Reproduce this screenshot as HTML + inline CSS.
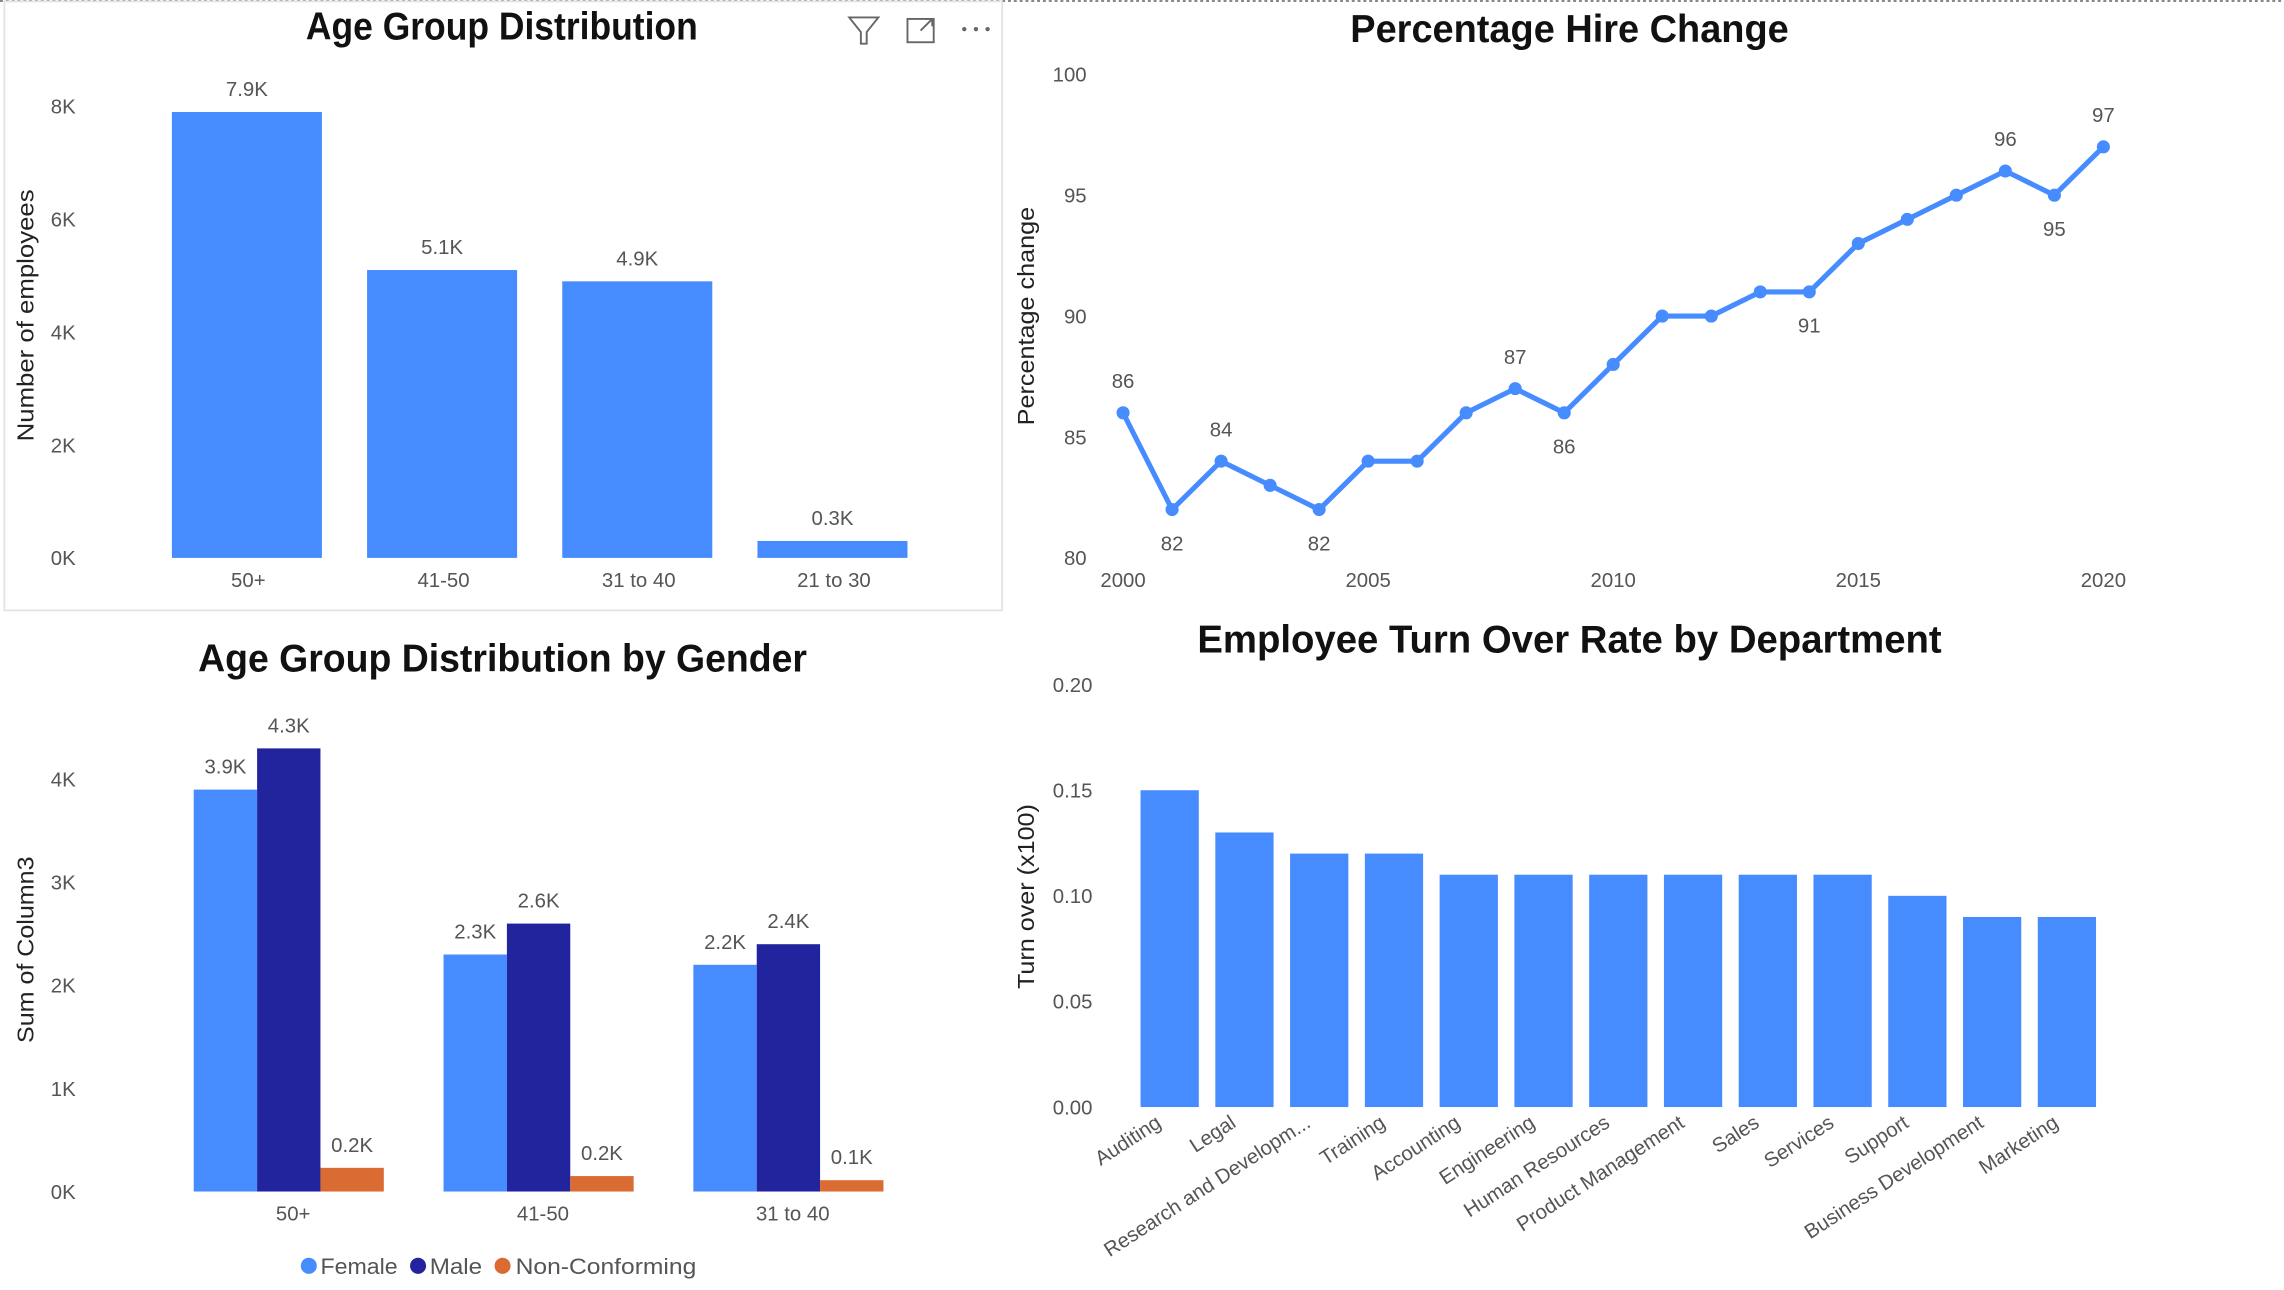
<!DOCTYPE html>
<html><head><meta charset="utf-8"><style>
html,body{margin:0;padding:0;background:#fff;width:2284px;height:1290px;overflow:hidden}
svg{display:block;font-family:"Liberation Sans",sans-serif}
.t{font-weight:bold;font-size:27px;fill:#111}
.tk{font-size:14px;fill:#555}
.lb{font-size:14px;fill:#555}
.at{font-size:16px;fill:#222}
</style></head><body>
<svg id="s" width="2284" height="1290" viewBox="0 0 1568 885.6" preserveAspectRatio="none" xmlns="http://www.w3.org/2000/svg">
<line x1="0" y1="0.7" x2="1568" y2="0.7" stroke="#777" stroke-dasharray="2,2" stroke-width="1.2"/>
<rect x="3" y="1" width="685" height="418" fill="none" stroke="#e3e3e3" stroke-width="1.2"/>
<text class="t" x="210" y="27" textLength="269" lengthAdjust="spacingAndGlyphs">Age Group Distribution</text>
<g fill="none" stroke="#666" stroke-width="1.3"><path d="M583 12 L603 12 L595 22 L595 30 L591 30 L591 22 Z"/></g>
<g fill="none" stroke="#666" stroke-width="1.3"><rect x="623" y="13" width="18" height="16"/><path d="M632 21 L640 13 M635 13 L640 13 L640 18"/></g>
<g fill="#666"><circle cx="662" cy="20" r="1.5"/><circle cx="670" cy="20" r="1.5"/><circle cx="678" cy="20" r="1.5"/></g>
<text class="at" transform="translate(23,303) rotate(-90)" textLength="173" lengthAdjust="spacingAndGlyphs">Number of employees</text>
<g id="g1"></g>
<text class="t" x="927" y="29" textLength="301" lengthAdjust="spacingAndGlyphs">Percentage Hire Change</text>
<text class="at" transform="translate(710,292) rotate(-90)" textLength="150" lengthAdjust="spacingAndGlyphs">Percentage change</text>
<g id="g2"></g>
<text class="t" x="136" y="461" textLength="418" lengthAdjust="spacingAndGlyphs">Age Group Distribution by Gender</text>
<text class="at" transform="translate(23,716) rotate(-90)" textLength="128" lengthAdjust="spacingAndGlyphs">Sum of Column3</text>
<g id="g3"></g>
<g>
<circle cx="212" cy="869" r="5.5" fill="#478CFF"/>
<text class="lb" x="220" y="874.5" style="font-size:15px" textLength="53" lengthAdjust="spacingAndGlyphs">Female</text>
<circle cx="287" cy="869" r="5.5" fill="#22249E"/>
<text class="lb" x="295" y="874.5" style="font-size:15px" textLength="36" lengthAdjust="spacingAndGlyphs">Male</text>
<circle cx="345" cy="869" r="5.5" fill="#D96B33"/>
<text class="lb" x="354" y="874.5" style="font-size:15px" textLength="124" lengthAdjust="spacingAndGlyphs">Non-Conforming</text>
</g>
<text class="t" x="822" y="448" textLength="511" lengthAdjust="spacingAndGlyphs">Employee Turn Over Rate by Department</text>
<text class="at" transform="translate(710,679) rotate(-90)" textLength="127" lengthAdjust="spacingAndGlyphs">Turn over (x100)</text>
<g id="g4"></g>
</svg>
<script>
const NS="http://www.w3.org/2000/svg";
// chart 1
const ageCats=["50+","41-50","31 to 40","21 to 30"];
const ageVals=[7.9,5.1,4.9,0.3];
const ageTicks=[0,2,4,6,8];
// chart 2
const hireYears=[2000,2001,2002,2003,2004,2005,2006,2007,2008,2009,2010,2011,2012,2013,2014,2015,2016,2017,2018,2019,2020];
const hireVals=[86,82,84,83,82,84,84,86,87,86,88,90,90,91,91,93,94,95,96,95,97];
const hireLabelIdx=[0,1,2,4,8,9,14,18,19,20];
const hireLabelBelow=[1,4,9,14,19];
const hireYTicks=[80,85,90,95,100];
const hireXTicks=[2000,2005,2010,2015,2020];
// chart 3
const genderCats=["50+","41-50","31 to 40"];
const femaleVals=[3.9,2.3,2.2];
const maleVals=[4.3,2.6,2.4];
const ncVals=[0.2,0.2,0.1];
const ncPrinted=[0.23,0.15,0.11];
const genderTicks=[0,1,2,3,4];
// chart 4
const depts=["Auditing","Legal","Research and Developm...","Training","Accounting","Engineering","Human Resources","Product Management","Sales","Services","Support","Business Development","Marketing"];
const turnVals=[0.15,0.13,0.12,0.12,0.11,0.11,0.11,0.11,0.11,0.11,0.10,0.09,0.09];
const turnTicks=[0,0.05,0.10,0.15,0.20];

function el(p,tag,a,txt){const e=document.createElementNS(NS,tag);for(const k in a)e.setAttribute(k,a[k]);if(txt!==undefined)e.textContent=txt;p.appendChild(e);return e;}

// Chart 1
(function(){
 const g=document.getElementById('g1');
 const yy=v=>383-v*38.75;
 const x0=118,step=134,w=103;
 ageTicks.forEach(t=>{const e=el(g,'text',{class:'tk',x:52,y:yy(t)+5,'text-anchor':'end'},t+'K');
 });
 ageCats.forEach((c,i)=>{const x=x0+i*step;
  const r=el(g,'rect',{x:x,y:yy(ageVals[i]),width:w,height:yy(0)-yy(ageVals[i]),fill:'#478CFF'});
  
  const v=el(g,'text',{class:'lb',x:x+w/2,y:yy(ageVals[i])-11,'text-anchor':'middle'},ageVals[i].toFixed(1)+'K');
  
  const l=el(g,'text',{class:'lb',x:x+w/2+1,y:403,'text-anchor':'middle'},c);
  
 });
})();

// Chart 2
(function(){
 const g=document.getElementById('g2');
 const x=yr=>771+(yr-2000)*(1444-771)/20;
 const y=v=>383-(v-80)*(383-51)/20;
 hireYTicks.forEach(t=>{const e=el(g,'text',{class:'tk',x:746,y:y(t)+5,'text-anchor':'end'},t);
 });
 hireXTicks.forEach(t=>{const e=el(g,'text',{class:'tk',x:x(t),y:403,'text-anchor':'middle'},t);
 });
 const pts=hireYears.map((yr,i)=>x(yr)+','+y(hireVals[i])).join(' ');
 const pl=el(g,'polyline',{points:pts,fill:'none',stroke:'#478CFF','stroke-width':3.5,'stroke-linejoin':'round'});
 
 hireYears.forEach((yr,i)=>{const c=el(g,'circle',{cx:x(yr),cy:y(hireVals[i]),r:4.5,fill:'#478CFF'});
  });
 hireLabelIdx.forEach(i=>{const below=hireLabelBelow.includes(i);
  const t=el(g,'text',{class:'lb',x:x(hireYears[i]),y:below?y(hireVals[i])+28:y(hireVals[i])-17,'text-anchor':'middle'},hireVals[i]);
  });
})();

// Chart 3
(function(){
 const g=document.getElementById('g3');
 const y=v=>818-v*70.75;
 const x0=133,gstep=171.5,bw=43.5;
 genderTicks.forEach(t=>{const e=el(g,'text',{class:'tk',x:52,y:y(t)+5,'text-anchor':'end'},t+'K');
 });
 const series=[[femaleVals,'#478CFF','female'],[maleVals,'#22249E','male'],[ncVals,'#D96B33','nonconforming']];
 genderCats.forEach((c,i)=>{
  series.forEach((s,j)=>{const v=(j==2?ncPrinted[i]:s[0][i]);const bx=x0+i*gstep+j*bw;
   const r=el(g,'rect',{x:bx,y:y(v),width:bw,height:y(0)-y(v),fill:s[1]});
   
   const t=el(g,'text',{class:'lb',x:bx+bw/2,y:y(v)-11,'text-anchor':'middle'},s[0][i].toFixed(1)+'K');
   });
  const l=el(g,'text',{class:'lb',x:x0+i*gstep+1.5*bw+3,y:838,'text-anchor':'middle'},c);
  
 });
})();

// Chart 4
(function(){
 const g=document.getElementById('g4');
 const y=v=>760-v*1450;
 const x0=783,step=51.33,w=40;
 turnTicks.forEach(t=>{const e=el(g,'text',{class:'tk',x:750,y:y(t)+5,'text-anchor':'end'},t.toFixed(2));
 });
 depts.forEach((d,i)=>{const x=x0+i*step;
  const r=el(g,'rect',{x:x,y:y(turnVals[i]),width:w,height:y(0)-y(turnVals[i]),fill:'#478CFF'});
  
  const cx=x+w/2-5, cy=773;
  const t=el(g,'text',{class:'lb',x:cx,y:cy,'text-anchor':'end',transform:'rotate(-33 '+cx+' '+cy+')'},d);
  
 });
})();
</script>
</body></html>
